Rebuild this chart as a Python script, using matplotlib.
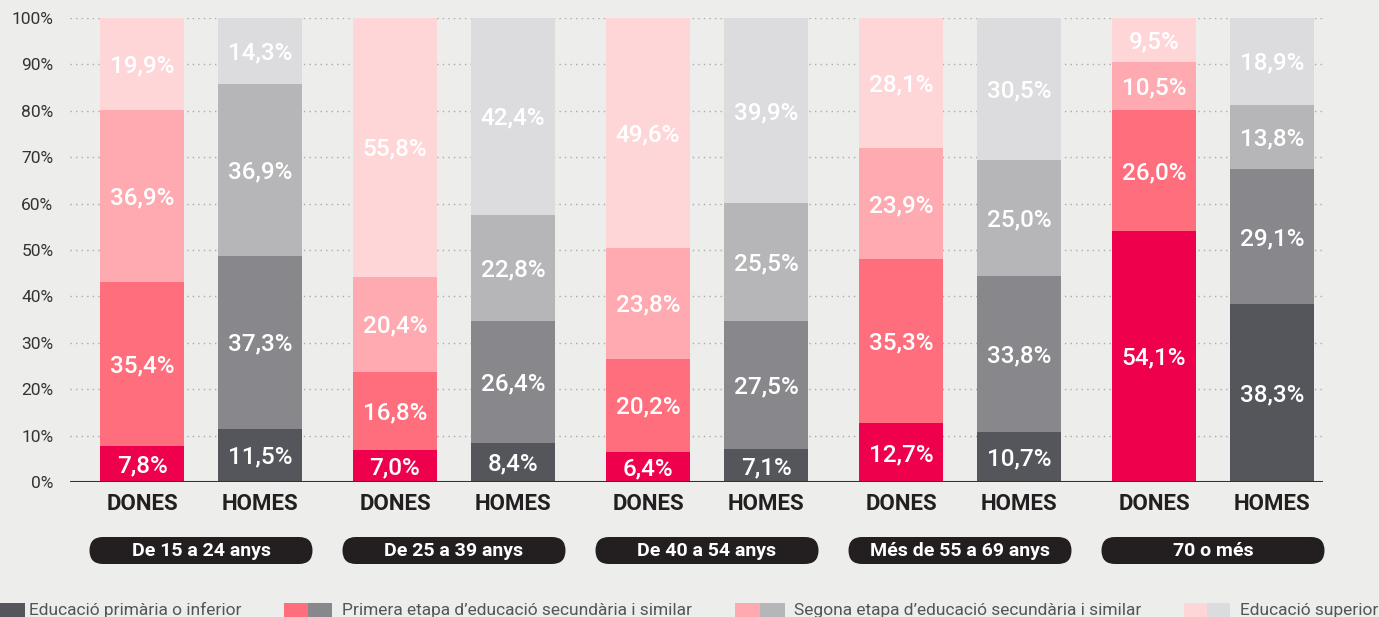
import matplotlib.pyplot as plt
from matplotlib.patches import FancyBboxPatch, Rectangle

plt.rcParams["font.family"] = ["Roboto", "DejaVu Sans"]

groups = ["De 15 a 24 anys", "De 25 a 39 anys", "De 40 a 54 anys",
          "Més de 55 a 69 anys", "70 o més"]
sexes = ["DONES", "HOMES"]
levels = ["Educació primària o inferior",
          "Primera etapa d'educació secundària i similar",
          "Segona etapa d'educació secundària i similar",
          "Educació superior"]

# per group: primaria, primera etapa, segona etapa, superior
dones = [
    [7.8, 35.4, 36.9, 19.9],
    [7.0, 16.8, 20.4, 55.8],
    [6.4, 20.2, 23.8, 49.6],
    [12.7, 35.3, 23.9, 28.1],
    [54.1, 26.0, 10.5, 9.5],
]
homes = [
    [11.5, 37.3, 36.9, 14.3],
    [8.4, 26.4, 22.8, 42.4],
    [7.1, 27.5, 25.5, 39.9],
    [10.7, 33.8, 25.0, 30.5],
    [38.3, 29.1, 13.8, 18.9],
]

pink = ["#ee004d", "#ff6e7c", "#ffaab0", "#ffd6d8"]
grey = ["#55565b", "#88878c", "#b6b6b8", "#dcdbdd"]
bg = "#ededeb"

W, H = 1379, 617
fig = plt.figure(figsize=(W / 100, H / 100), dpi=100, facecolor=bg)

# main axes in pixel-aligned frame: x from 70 to 1323, y from 482 (0%) to 18 (100%)
x0, x1, ytop, ybot = 70, 1323, 18, 482
ax = fig.add_axes([x0 / W, (H - ybot) / H, (x1 - x0) / W, (ybot - ytop) / H])
ax.set_facecolor(bg)
ax.set_xlim(x0, x1)
ax.set_ylim(0, 100)
for s in ax.spines.values():
    s.set_visible(False)
ax.tick_params(length=0, labelsize=12.5, colors="#333333", pad=12)
ax.set_xticks([])
ax.set_yticks(range(0, 101, 10))
ax.set_yticklabels([f"{v}%" for v in range(0, 101, 10)])
for v in range(10, 101, 10):
    ax.axhline(v, color="#aaaaaa", lw=1, ls=(0, (1, 3)), zorder=0)
ax.axhline(0, color="#333333", lw=2.2, zorder=3)

bw = 84
first, gstep, sstep = 142, 253, 118
for g in range(len(groups)):
    for si, (data, cols) in enumerate([(dones[g], pink), (homes[g], grey)]):
        xc = first + gstep * g + sstep * si
        bottom = 0
        for k, v in enumerate(data):
            ax.bar(xc, v, bottom=bottom, width=bw, color=cols[k], zorder=2)
            ax.text(xc, bottom + v / 2 - 0.4, f"{v:.1f}%".replace(".", ","),
                    ha="center", va="center", color="white", fontsize=17.5,
                    fontweight="medium", zorder=4)
            bottom += v
        ax.text(xc, -4.8, sexes[si], ha="center", va="center", fontsize=16,
                fontweight="bold", color="#231f20", clip_on=False)

# overlay in pixel coords for pills and legend
ov = fig.add_axes([0, 0, 1, 1])
ov.set_xlim(0, W)
ov.set_ylim(H, 0)
ov.axis("off")
ov.patch.set_alpha(0)

pw, ph = 223, 27
for g, name in enumerate(groups):
    xc = first + gstep * g + sstep / 2
    ov.add_patch(FancyBboxPatch((xc - pw / 2, 537), pw, ph,
                                boxstyle=f"round,pad=0,rounding_size={ph / 2}",
                                fc="#231f20", ec="none"))
    ov.text(xc, 551, name, ha="center", va="center", color="white",
            fontsize=14, fontweight="bold")

legend_x = [(-25, 0, 29), (284, 308, 342), (735, 760, 794), (1184, 1207, 1240)]
for k, (lx1, lx2, tx) in enumerate(legend_x):
    ov.add_patch(Rectangle((lx1, 603), lx2 - lx1, 20, fc=pink[k], ec="none"))
    ov.add_patch(Rectangle((lx2, 603), lx2 - lx1, 20, fc=grey[k], ec="none"))
    ov.text(tx, 610, levels[k].replace("'", "\u2019"), ha="left", va="center",
            fontsize=12.5, color="#555555")

fig.savefig("out.png", dpi=100, facecolor=bg)
